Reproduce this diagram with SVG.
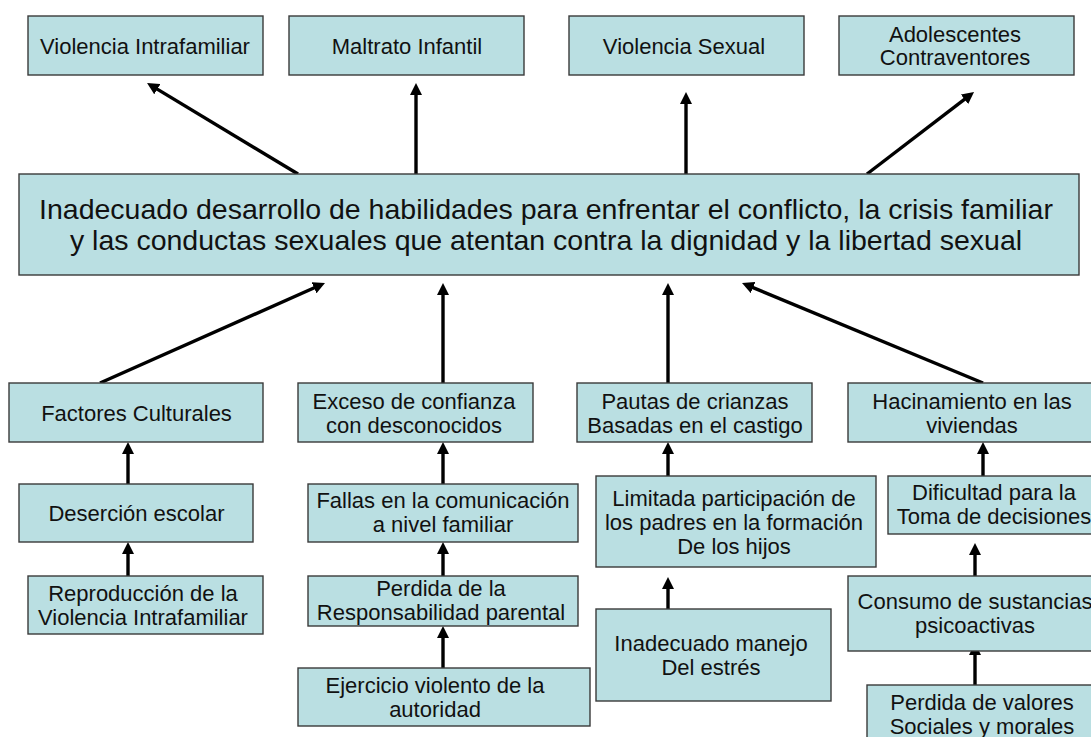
<svg xmlns="http://www.w3.org/2000/svg" width="1091" height="737" viewBox="0 0 1091 737">
<defs>
<style>
.box{fill:#BADFE2;stroke:#3a3a3a;stroke-width:1.4}
text{font-family:"Liberation Sans",Arial,sans-serif;font-size:22px;fill:#111;text-anchor:middle}
.big{font-size:28.5px}
.arr{stroke:#000;stroke-width:3.4;fill:none;marker-end:url(#ah)}
</style>
<marker id="ah" markerUnits="userSpaceOnUse" markerWidth="12" markerHeight="12" refX="4" refY="6" orient="auto">
<path d="M0,0 L12,6 L0,12 z" fill="#000"/>
</marker>
</defs>
<rect width="1091" height="737" fill="#fff"/>

<g id="connectors">
<line class="arr" x1="298" y1="174" x2="153.9" y2="87.1"/>
<line class="arr" x1="416" y1="174" x2="416" y2="91"/>
<line class="arr" x1="686" y1="174" x2="686" y2="100"/>
<line class="arr" x1="867" y1="174" x2="967.7" y2="96.9"/>
<line class="arr" x1="100" y1="383" x2="317.7" y2="286.2"/>
<line class="arr" x1="443" y1="383" x2="443" y2="291"/>
<line class="arr" x1="668" y1="383" x2="668" y2="291"/>
<line class="arr" x1="983" y1="383" x2="749.4" y2="286.1"/>
<line class="arr" x1="128" y1="484" x2="128" y2="450"/>
<line class="arr" x1="128" y1="576" x2="128" y2="550"/>
<line class="arr" x1="443" y1="484" x2="443" y2="450"/>
<line class="arr" x1="443" y1="576" x2="443" y2="550"/>
<line class="arr" x1="443" y1="668" x2="443" y2="634"/>
<line class="arr" x1="668" y1="476" x2="668" y2="450"/>
<line class="arr" x1="668" y1="609" x2="668" y2="585"/>
<line class="arr" x1="983" y1="476" x2="983" y2="450"/>
<line class="arr" x1="975" y1="576" x2="975" y2="551"/>
<line class="arr" x1="975" y1="685" x2="975" y2="651"/>
</g>

<g id="n-violencia-intrafamiliar">
<rect class="box" x="28" y="16" width="235" height="59"/>
<text x="145" y="53.5">Violencia Intrafamiliar</text>
</g>
<g id="n-maltrato-infantil">
<rect class="box" x="289" y="16" width="235" height="59"/>
<text x="407" y="53.5">Maltrato Infantil</text>
</g>
<g id="n-violencia-sexual">
<rect class="box" x="569" y="16" width="235" height="59"/>
<text x="684" y="53.5">Violencia Sexual</text>
</g>
<g id="n-adolescentes">
<rect class="box" x="839" y="16" width="235" height="59"/>
<text x="955" y="42">Adolescentes</text>
<text x="955" y="65">Contraventores</text>
</g>

<g id="n-central">
<rect class="box" x="19" y="174" width="1060" height="101"/>
<text class="big" x="546" y="219">Inadecuado desarrollo de habilidades para enfrentar el conflicto, la crisis familiar</text>
<text class="big" x="546" y="250">y las conductas sexuales que atentan contra la dignidad y la libertad sexual</text>
</g>

<g id="n-factores">
<rect class="box" x="9" y="383" width="254" height="59"/>
<text x="136.5" y="420.5">Factores Culturales</text>
</g>
<g id="n-exceso">
<rect class="box" x="298" y="383" width="235" height="59"/>
<text x="414" y="408.5">Exceso de confianza</text>
<text x="414" y="432.5">con desconocidos</text>
</g>
<g id="n-pautas">
<rect class="box" x="577" y="383" width="235" height="59"/>
<text x="695" y="408.5">Pautas de crianzas</text>
<text x="695" y="432.5">Basadas en el castigo</text>
</g>
<g id="n-hacinamiento">
<rect class="box" x="848" y="383" width="248" height="59"/>
<text x="972" y="408.5">Hacinamiento en las</text>
<text x="972" y="432.5">viviendas</text>
</g>

<g id="n-desercion">
<rect class="box" x="19" y="484" width="234" height="58"/>
<text x="136.5" y="521">Deserción escolar</text>
</g>
<g id="n-fallas">
<rect class="box" x="308" y="484" width="270" height="58"/>
<text x="443" y="508">Fallas en la comunicación</text>
<text x="443" y="532">a nivel familiar</text>
</g>
<g id="n-limitada">
<rect class="box" x="596" y="476" width="280" height="91"/>
<text x="734" y="505.5">Limitada participación de</text>
<text x="734" y="529.5">los padres en la formación</text>
<text x="734" y="553.5">De los hijos</text>
</g>
<g id="n-dificultad">
<rect class="box" x="888" y="476" width="212" height="58"/>
<text x="994" y="500">Dificultad para la</text>
<text x="994" y="524">Toma de decisiones</text>
</g>

<g id="n-reproduccion">
<rect class="box" x="28" y="576" width="235" height="58"/>
<text x="143" y="601">Reproducción de la</text>
<text x="143" y="625">Violencia Intrafamiliar</text>
</g>
<g id="n-perdida-responsabilidad">
<rect class="box" x="308" y="576" width="270" height="50"/>
<text x="441" y="596">Perdida de la</text>
<text x="441" y="620">Responsabilidad parental</text>
</g>
<g id="n-consumo">
<rect class="box" x="848" y="576" width="253" height="75"/>
<text x="975" y="609">Consumo de sustancias</text>
<text x="975" y="633">psicoactivas</text>
</g>
<g id="n-inadecuado-manejo">
<rect class="box" x="596" y="609" width="235" height="92"/>
<text x="711" y="651">Inadecuado manejo</text>
<text x="711" y="675">Del estrés</text>
</g>
<g id="n-ejercicio">
<rect class="box" x="298" y="668" width="292" height="58"/>
<text x="435" y="692.5">Ejercicio violento de la</text>
<text x="435" y="716.5">autoridad</text>
</g>
<g id="n-perdida-valores">
<rect class="box" x="867" y="685" width="230" height="75"/>
<text x="982" y="710">Perdida de valores</text>
<text x="982" y="734">Sociales y morales</text>
</g>
</svg>
